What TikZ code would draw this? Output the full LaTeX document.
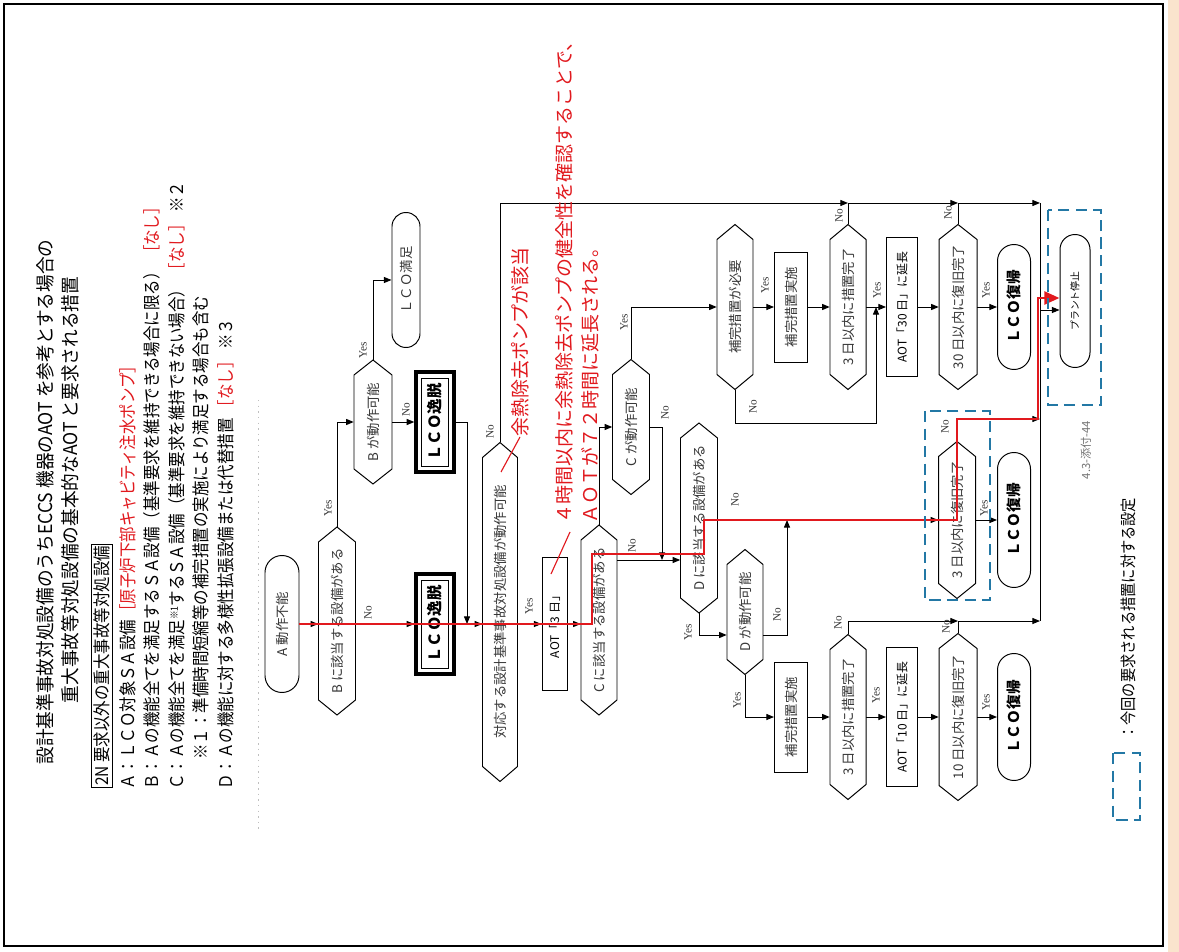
\documentclass[tikz,border=0pt]{standalone}
\usepackage{fontspec}
\setmainfont{Noto Sans CJK JP}
\newfontfamily\yesnofont{Liberation Serif}
\usetikzlibrary{shapes.misc,arrows.meta}

\definecolor{hilite}{RGB}{225,25,30}
\definecolor{markblue}{RGB}{35,120,165}
\definecolor{sheetedge}{RGB}{250,228,205}
\definecolor{inkgray}{RGB}{55,55,55}

% one drawing unit
\newdimen\pxu
\pxu=0.025cm

\newcommand\tsize[1]{\fontsize{#1}{#1}\selectfont}

% hexagonal decision: name, x, y, length along the text, thickness, text
\newcommand\decision[6]{%
  \node[declabel, minimum width=#4\pxu, minimum height=#5\pxu] (#1) at (#2,#3) {#6};
  \pgfmathsetmacro\hxl{#2-#5/2}%
  \pgfmathsetmacro\hxr{#2+#5/2}%
  \pgfmathsetmacro\hyt{#3-#4/2}%
  \pgfmathsetmacro\hyb{#3+#4/2}%
  \draw[flow] (\hxl,\hyt+15) -- (#2,\hyt) -- (\hxr,\hyt+15) -- (\hxr,\hyb-15)
     -- (#2,\hyb) -- (\hxl,\hyb-15) -- cycle;
}

% LCO deviation box with heavy outer and thin inner frame
\newcommand\lcobox[4]{%
  \node[lcoouter] (#1) at (#2,#3) {};
  \node[lcoinner] (#1-in) at (#2,#3) {#4};
}

\begin{document}
\begin{tikzpicture}[x=0.025cm, y=-0.025cm,
  flow/.style={draw=black, line width=0.7pt},
  arr/.style={flow, -{Triangle[length=1.9mm, width=1.5mm]}},
  declabel/.style={rotate=90, inner sep=0pt, font=\tsize{9.5}, text=inkgray},
  terminal/.style={rounded rectangle, draw, line width=0.7pt, rotate=90, inner sep=0pt, font=\tsize{9.5}, text=inkgray},
  process/.style={rectangle, draw, line width=0.7pt, rotate=90, inner sep=0pt, font=\tsize{9.5}, text=inkgray},
  aotbox/.style={process, font=\tsize{8.5}, text=black},
  lcoouter/.style={rectangle, draw, line width=2.4pt, rotate=90, minimum width=100\pxu, minimum height=38\pxu},
  lcoinner/.style={rectangle, draw, line width=0.6pt, rotate=90, minimum width=88\pxu, minimum height=27\pxu, inner sep=0pt, font=\tsize{11}\bfseries},
  restore/.style={terminal, minimum height=33\pxu, font=\tsize{10.5}\bfseries, text=black},
  yn/.style={rotate=90, inner sep=0pt, font=\yesnofont\tsize{8}, text=inkgray},
  legend/.style={rotate=90, xscale=0.88, anchor=west, inner sep=0pt, font=\tsize{12.5}},
  heading/.style={rotate=90, xscale=0.93, inner sep=0pt, font=\tsize{13.5}},
  note/.style={rotate=90, anchor=west, inner sep=0pt, font=\tsize{13.5}, text=hilite},
  hipath/.style={draw=hilite, line width=2.1pt, line join=miter},
  leader/.style={draw=hilite, line width=0.8pt},
  markbox/.style={draw=markblue, line width=1.8pt, dash pattern=on 8pt off 4.5pt},
]
\useasboundingbox (0,0) rectangle (1179,952);
\fill[white] (0,0) rectangle (1179,952);
\fill[sheetedge] (1168,0) rectangle (1179,952);
\draw[line width=1.4pt] (4,4) rectangle (1163,946);

% ---- heading ----
\node[heading] (title1) at (45,502) {設計基準事故対処設備のうちECCS 機器のAOT を参考とする場合の};
\node[heading] (title2) at (70,490) {重大事故等対処設備の基本的なAOT と要求される措置};

% ---- equipment categories ----
\node[legend, draw, line width=0.6pt, inner sep=1.5pt] (lg0) at (102,788) {2N 要求以外の重大事故等対処設備};
\node[legend] (lgA) at (128,790) {Ａ：ＬＣＯ対象ＳＡ設備\textcolor{hilite}{［原子炉下部キャビティ注水ポンプ］}};
\node[legend] (lgB) at (152,790) {Ｂ：Ａの機能全てを満足するＳＡ設備（基準要求を維持できる場合に限る）\ \textcolor{hilite}{［なし］}};
\node[legend] (lgC) at (177,790) {Ｃ：Ａの機能全てを満足\raisebox{0.6ex}{\tsize{7}※1}するＳＡ設備（基準要求を維持できない場合）\ \textcolor{hilite}{［なし］}\ ※２};
\node[legend] (lgN) at (201,760) {※１：準備時間短縮等の補完措置の実施により満足する場合も含む};
\node[legend] (lgD) at (226,790) {Ｄ：Ａの機能に対する多様性拡張設備または代替措置\ \textcolor{hilite}{［なし］}\ ※３};
\draw[black!25, line width=0.5pt, dash pattern=on 1pt off 3pt] (258,400) -- (258,830);

% ---- flow nodes ----
\node[terminal, minimum width=137\pxu, minimum height=34\pxu] (start) at (282,624) {A 動作不能};
\decision{hasB}{337}{621}{188}{37}{B に該当する設備がある}
\decision{opB}{373}{422}{124}{38}{B が動作可能}
\node[terminal, minimum width=135\pxu, minimum height=28\pxu] (lcoOK) at (406,280) {ＬＣＯ満足};
\lcobox{devA}{435}{422}{ＬＣＯ逸脱}
\lcobox{devB}{435}{624}{ＬＣＯ逸脱}
\decision{dba}{500}{612}{339}{35}{対応する設計基準事故対処設備が動作可能}
\node[aotbox, minimum width=133\pxu, minimum height=25\pxu] (aot3) at (554.5,624) {AOT「3 日」};
\decision{hasC}{599}{620}{190}{36}{C に該当する設備がある}
\decision{opC}{631}{427}{135}{37}{C が動作可能}
\decision{hasD}{699}{518}{190}{37}{D に該当する設備がある}
\decision{opD}{745}{612}{125}{36}{D が動作可能}
\decision{needC}{735}{307}{165}{36}{補完措置が必要}
\node[process, minimum width=110\pxu, minimum height=33\pxu] (doC) at (791,307) {補完措置実施};
\decision{doneC}{848}{307}{165}{36}{3 日以内に措置完了}
\node[process, minimum width=110\pxu, minimum height=33\pxu] (doD) at (791,717) {補完措置実施};
\decision{doneD}{848}{717}{165}{36}{3 日以内に措置完了}
\node[aotbox, minimum width=139\pxu, minimum height=31\pxu] (aot30) at (902,307) {AOT「30 日」に延長};
\decision{fix30}{958}{307}{165}{38}{30 日以内に復旧完了}
\node[restore, minimum width=125\pxu] (backA) at (1014,307) {ＬＣＯ復帰};
\decision{fix3}{957}{520}{157}{37}{3 日以内に復旧完了}
\node[restore, minimum width=135\pxu] (backB) at (1014,520) {ＬＣＯ復帰};
\node[aotbox, minimum width=139\pxu, minimum height=31\pxu] (aot10) at (902,717) {AOT「10 日」に延長};
\decision{fix10}{958}{717}{167}{38}{10 日以内に復旧完了}
\node[restore, minimum width=127\pxu] (backC) at (1014,717) {ＬＣＯ復帰};
\node[terminal, minimum width=133\pxu, minimum height=30\pxu, font=\tsize{7}, text=black] (stop) at (1075,301) {プラント停止};

% ---- routing points ----
\coordinate (mainY) at (0,624);
\coordinate (topR) at (1040,203);
\coordinate (botR) at (1040,621);
\coordinate (midR) at (1040,419);
\coordinate (stopR) at (1040,310);
\coordinate (joinA) at (467,624);
\coordinate (noCY) at (0,560);
\coordinate (joinC) at (662,560);
\coordinate (noNeedY) at (0,423);
\coordinate (joinN) at (876,307);
\coordinate (yesDY) at (0,635);
\coordinate (noDY) at (0,520);
\coordinate (joinD) at (787,520);

% ---- connectors ----
\draw[arr] (start.south) -- (hasB.north |- mainY);
\draw[arr] (hasB.east) |- (opB.north);
\draw[arr] (opB.east) |- (lcoOK.north);
\draw[arr] (opB.south) -- (devA.north);
\draw[arr] (hasB.south |- mainY) -- (devB.north);
\draw[arr] (devA.south) -| (joinA);
\draw[arr] (devB.south) -- (dba.north |- mainY);
\draw[arr] (dba.south |- mainY) -- (aot3.north);
\draw[arr] (aot3.south) -- (hasC.north |- mainY);

\draw[arr] (dba.east) |- (doneC.east |- topR);
\draw[arr] (doneC.east |- topR) -- (fix30.east |- topR);
\draw[arr] (fix30.east |- topR) -- (topR);
\draw[flow] (doneC.east) -- (doneC.east |- topR);
\draw[flow] (fix30.east) -- (fix30.east |- topR);
\draw[flow] (topR) -- (botR);
\draw[arr] (stopR) -- (stop.north |- stopR);

\draw[arr] (hasC.east) |- (opC.north);
\draw[arr] (hasC.south |- noCY) -- (hasD.north |- noCY);
\draw[arr] (opC.south) -| (joinC);
\draw[arr] (opC.east) |- (needC.north);
\draw[arr] (needC.south) -- (doC.north);
\draw[arr] (doC.south) -- (doneC.north);
\draw[arr] (needC.west) |- (joinN |- noNeedY) -- (joinN);
\draw[arr] (doneC.south) -- (aot30.north);
\draw[arr] (aot30.south) -- (fix30.north);
\draw[arr] (fix30.south) -- (backA.north);

\draw[arr] (hasD.west) |- (opD.north |- yesDY);
\draw[arr] (hasD.south |- noDY) -- (fix3.north |- noDY);
\draw[arr] (opD.south |- yesDY) -| (joinD);
\draw[arr] (opD.west) |- (doD.north);
\draw[arr] (doD.south) -- (doneD.north);
\draw[arr] (doneD.south) -- (aot10.north);
\draw[arr] (aot10.south) -- (fix10.north);
\draw[arr] (fix10.south) -- (backC.north);
\draw[arr] (doneD.east) |- (fix10.east |- botR);
\draw[flow] (fix10.east) -- (fix10.east |- botR);
\draw[arr] (fix10.east |- botR) -- (botR);
\draw[arr] (fix3.south) -- (backB.north);
\draw[arr] (fix3.east) |- (midR);

% ---- branch labels ----
\node[yn] (y1) at (328,508) {Yes};
\node[yn] (n1) at (368,613) {No};
\node[yn] (y2) at (363,350) {Yes};
\node[yn] (n2) at (406,410) {No};
\node[yn] (n3) at (490,432) {No};
\node[yn] (y3) at (529,606) {Yes};
\node[yn] (n4) at (632,546) {No};
\node[yn] (y4) at (624,322) {Yes};
\node[yn] (n5) at (665,413) {No};
\node[yn] (y5) at (688,632) {Yes};
\node[yn] (n6) at (735,500) {No};
\node[yn] (n7) at (777,615) {No};
\node[yn] (y6) at (737,700) {Yes};
\node[yn] (y7) at (765,285) {Yes};
\node[yn] (n8) at (753,407) {No};
\node[yn] (y8) at (877,290) {Yes};
\node[yn] (n9) at (839,216) {No};
\node[yn] (n10) at (838,623) {No};
\node[yn] (y9) at (876,695) {Yes};
\node[yn] (n11) at (948,213) {No};
\node[yn] (y10) at (986,290) {Yes};
\node[yn] (n12) at (945,427) {No};
\node[yn] (y11) at (984,508) {Yes};
\node[yn] (n13) at (946,627) {No};
\node[yn] (y12) at (986,702) {Yes};

% ---- highlighted route ----
\coordinate (h1) at (592,624);
\coordinate (h2) at (592,554);
\coordinate (h3) at (704,554);
\coordinate (h4) at (704,520);
\coordinate (h5) at (957,520);
\coordinate (h6) at (957,419);
\coordinate (h7) at (1038,419);
\coordinate (h8) at (1038,298);
\draw[hipath, -{Triangle[length=3.8mm, width=3.2mm]}] (start.south) -- (h1) -- (h2) -- (h3) -- (h4)
   -- (h5) -- (h6) -- (h7) -- (h8) -- (stop.north |- h8);

% ---- notes ----
\node[note] (rt1) at (520,437) {余熱除去ポンプが該当};
\node[note] (rt2) at (564,524) {４時間以内に余熱除去ポンプの健全性を確認することで、};
\node[note] (rt3) at (590,524) {ＡＯＴが７２時間に延長される。};
\coordinate (ld1) at (501,472);
\coordinate (ld2) at (551,574);
\draw[leader] (ld1) -- (rt1.west);
\draw[leader] (ld2) -- (570,532);

% ---- marked items ----
\draw[markbox] (925,411) rectangle (990,600);
\draw[markbox] (1048,210) rectangle (1101,405);
\draw[markbox] (1113,753) rectangle (1140,820);
\node[rotate=90, xscale=0.88, anchor=west, inner sep=0pt, font=\tsize{11.5}] (keytext) at (1128,740) {：今回の要求される措置に対する設定};
\node[rotate=90, font=\tsize{8}, text=black!55] (pageno) at (1086,450) {4.3-添付-44};
\end{tikzpicture}
\end{document}
